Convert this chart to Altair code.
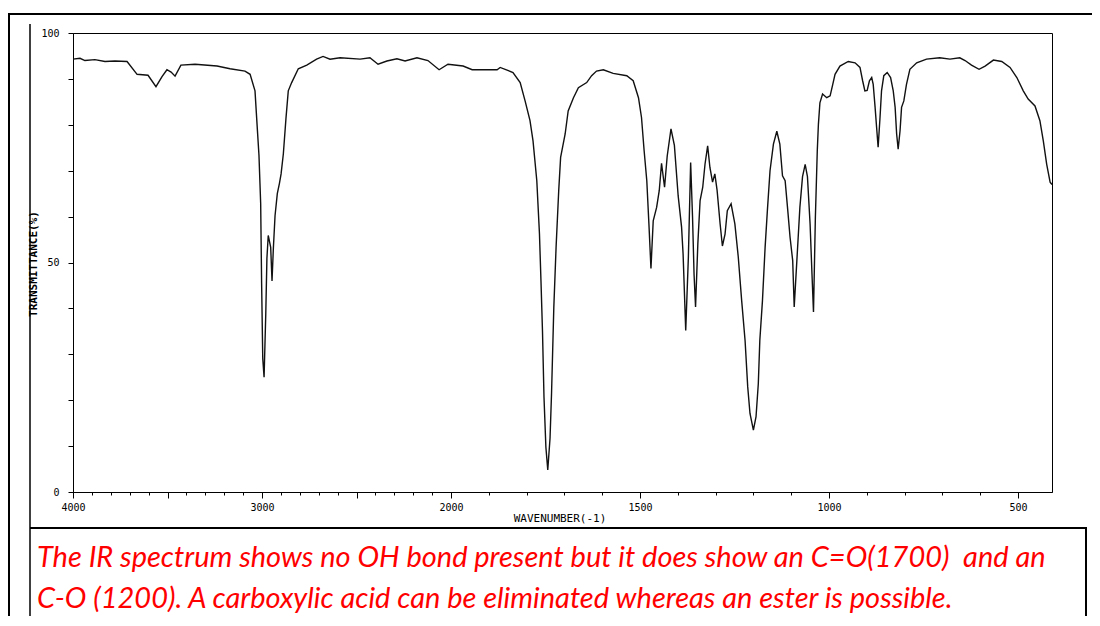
import altair as alt
import pandas as pd

# ---- spectrum data ----
wavenumber = [4000, 3963, 3937, 3884, 3831, 3778, 3714, 3661, 3603, 3561, 3529, 3503, 3481, 3460, 3429,
              3354, 3238, 3169, 3090, 3063, 3037, 3028, 3016, 3007, 3002, 2996, 2989, 2980, 2974, 2967,
              2954, 2947, 2940, 2931, 2919, 2908, 2899, 2887, 2873, 2861, 2843, 2808, 2763, 2711, 2677,
              2640, 2587, 2481, 2429, 2386, 2339, 2286, 2243, 2180, 2122, 2063, 2016, 1968, 1944, 1878,
              1870, 1836, 1817, 1804, 1791, 1783, 1773, 1766, 1762, 1758, 1754, 1749, 1744, 1738, 1734,
              1728, 1722, 1715, 1710, 1698, 1690, 1676, 1663, 1641, 1628, 1615, 1597, 1571, 1535, 1518,
              1504, 1496, 1489, 1482, 1476, 1471, 1465, 1456, 1449, 1443, 1435, 1428, 1418, 1409, 1399,
              1390, 1386, 1379, 1372, 1366, 1361, 1357, 1353, 1347, 1341, 1334, 1328, 1321, 1315, 1308,
              1302, 1296, 1288, 1282, 1275, 1269, 1259, 1249, 1240, 1231, 1222, 1215, 1209, 1200, 1193,
              1187, 1183, 1176, 1169, 1163, 1156, 1147, 1138, 1130, 1123, 1116, 1109, 1103, 1096, 1092,
              1085, 1077, 1070, 1063, 1057, 1050, 1045, 1041, 1036, 1031, 1028, 1024, 1017, 1006, 997,
              990, 984, 971, 949, 931, 918, 911, 905, 899, 893, 887, 883, 878, 874, 870,
              865, 861, 855, 846, 837, 830, 825, 821, 817, 812, 808, 802, 795, 786, 768,
              742, 707, 680, 654, 640, 623, 603, 587, 565, 543, 521, 503, 486, 473, 455,
              442, 433, 424, 415, 410]

transmittance = [94.3, 94.5, 94.0, 94.2, 93.8, 93.9, 93.8, 91.0, 90.8, 88.3, 90.5, 92.0, 91.5, 90.6, 93.0,
                 93.2, 92.8, 92.2, 91.7, 91.0, 87.4, 81.3, 73.3, 62.8, 45.4, 29.1, 25.0, 38.9, 50.9, 55.9,
                 53.3, 46.0, 53.0, 60.2, 65.0, 67.2, 69.3, 73.7, 81.5, 87.4, 89.2, 92.2, 93.0, 94.3, 94.9,
                 94.3, 94.6, 94.3, 94.6, 93.2, 93.9, 94.4, 93.9, 94.6, 94.0, 92.0, 93.2, 92.8, 92.0, 92.0,
                 92.5, 91.4, 89.2, 85.2, 80.9, 76.5, 67.8, 56.3, 46.1, 35.2, 20.7, 9.8, 4.8, 11.7, 21.5,
                 40.2, 53.3, 65.7, 72.9, 78.0, 83.0, 85.9, 88.1, 89.2, 90.7, 91.7, 92.0, 91.2, 90.7, 89.6,
                 85.9, 81.6, 74.3, 67.8, 57.7, 48.7, 59.1, 62.0, 65.7, 71.6, 66.4, 73.2, 79.1, 75.5, 64.5,
                 57.7, 51.9, 35.2, 51.2, 71.8, 59.9, 47.5, 40.3, 54.0, 63.5, 66.4, 71.4, 75.4, 70.7, 67.5,
                 69.3, 65.7, 58.4, 53.6, 56.2, 61.3, 62.8, 58.4, 51.2, 41.7, 33.0, 22.9, 17.1, 13.5, 16.4,
                 23.6, 33.0, 41.7, 53.3, 61.3, 70.0, 75.8, 78.6, 75.8, 68.9, 67.8, 61.3, 55.5, 50.4, 40.3,
                 50.4, 62.0, 68.7, 71.4, 68.7, 58.4, 47.5, 39.2, 59.9, 74.3, 80.1, 84.8, 86.7, 85.9, 86.3,
                 88.8, 91.0, 92.8, 93.8, 93.5, 92.5, 89.6, 87.4, 87.5, 89.6, 90.3, 88.8, 83.8, 79.4, 75.1,
                 81.6, 87.4, 90.7, 91.4, 90.3, 87.4, 83.8, 78.0, 74.7, 78.7, 83.8, 85.2, 88.8, 92.1, 93.5,
                 94.3, 94.6, 94.3, 94.6, 94.0, 93.0, 92.1, 92.8, 94.1, 93.8, 92.5, 90.3, 87.4, 85.6, 84.1,
                 80.9, 76.5, 71.4, 67.5, 67.0]

assert len(wavenumber) == len(transmittance), (len(wavenumber), len(transmittance))

x_tick_values = [4000, 3900, 3800, 3700, 3600, 3500, 3400, 3300, 3200, 3100, 3000, 2900, 2800, 2700,
                 2600, 2500, 2400, 2300, 2200, 2100, 2000, 1900, 1800, 1700, 1600, 1500, 1400, 1300,
                 1200, 1100, 1000, 900, 800, 700, 600, 500]
x_major_ticks = [4000, 3500, 3000, 2500, 2000, 1500, 1000, 500]
x_labels = [4000, 3000, 2000, 1500, 1000, 500]
y_tick_values = [0, 10, 20, 30, 40, 50, 60, 70, 80, 90, 100]
y_labels = [0, 50, 100]

x_title = "WAVENUMBER(-1)"
y_title = "TRANSMITTANCE(%)"
note_line1 = "The IR spectrum shows no OH bond present but it does show an C=O(1700)\u00a0 and an"
note_line2 = "C-O (1200). A carboxylic acid can be eliminated whereas an ester is possible."

df = pd.DataFrame({"wavenumber": wavenumber, "transmittance": transmittance})

W, H = 979, 459
AXIS_FONT = "DejaVu Sans Mono"


def js_list(vals):
    return "[" + ",".join(str(v) for v in vals) + "]"


x_axis = alt.Axis(
    values=x_tick_values,
    format="d",
    title=None,
    grid=False,
    domainColor="black",
    domainWidth=1,
    tickColor="black",
    tickWidth=1,
    tickSize={"condition": {"test": f"indexof({js_list(x_major_ticks)}, datum.value) >= 0", "value": 6},
              "value": 3},
    labelExpr=f"indexof({js_list(x_labels)}, datum.value) >= 0 ? datum.label : ''",
    labelFont=AXIS_FONT,
    labelFontSize=10,
    labelColor="black",
    labelPadding=4,
    labelOverlap=False,
    labelFlush=False,
)

y_axis = alt.Axis(
    values=y_tick_values,
    title=None,
    grid=False,
    domainColor="black",
    domainWidth=1,
    tickColor="black",
    tickSize=5,
    labelExpr=f"indexof({js_list(y_labels)}, datum.value) >= 0 ? datum.label : ''",
    labelFont=AXIS_FONT,
    labelFontSize=10,
    labelColor="black",
    labelPadding=9,
    labelOverlap=False,
    labelFlush=False,
)

spectrum = alt.Chart(df).mark_line(color="#111111", strokeWidth=1.4).encode(
    x=alt.X("wavenumber:Q", scale=alt.Scale(domain=[4000, 2000, 410], range=[0, 378, W], nice=False, zero=False),
            axis=x_axis),
    y=alt.Y("transmittance:Q", scale=alt.Scale(domain=[0, 100], nice=False, zero=False), axis=y_axis),
)

one = pd.DataFrame({"k": [0]})


def hrule(x1, x2, y, w):
    return alt.Chart(one).mark_rule(color="black", strokeWidth=w).encode(
        x=alt.value(x1), x2=alt.value(x2), y=alt.value(y))


def vrule(x, y1, y2, w):
    return alt.Chart(one).mark_rule(color="black", strokeWidth=w).encode(
        x=alt.value(x), y=alt.value(y1), y2=alt.value(y2))


def label(txt, x, y, **kw):
    return alt.Chart(one).mark_text(**kw).encode(x=alt.value(x), y=alt.value(y), text=alt.value(txt))


decor = [
    hrule(-65, 1040, -19, 2),      # outer frame top
    vrule(-64, -20, 620, 2),       # outer frame left
    vrule(-43, -9, 620, 1.5),      # inner left line
    hrule(-43, 1013, 495, 2),      # note box top
    vrule(1013, 494, 620, 2),      # note box right
]

texts = [
    label(y_title, -39, 231, angle=270, font=AXIS_FONT, fontSize=11, fontWeight="bold", color="black",
          align="center", baseline="middle"),
    label(x_title, 487, 486, font=AXIS_FONT, fontSize=11, color="black",
          align="center", baseline="middle"),
    label(note_line1, -36, 534, font="Lato", fontStyle="italic", fontSize=29, color="#ff0000",
          align="left", baseline="alphabetic"),
    label(note_line2, -36, 575, font="Lato", fontStyle="italic", fontSize=29, color="#ff0000",
          align="left", baseline="alphabetic"),
]

chart = alt.layer(spectrum, *decor, *texts).properties(
    width=W,
    height=H,
    autosize=alt.AutoSizeParams(type="none"),
    padding={"left": 65, "top": 25, "right": 40, "bottom": 124},
    background="white",
).configure_view(stroke="black", strokeWidth=1)

chart.save("out.html", embed_options={"renderer": "svg", "actions": False})
